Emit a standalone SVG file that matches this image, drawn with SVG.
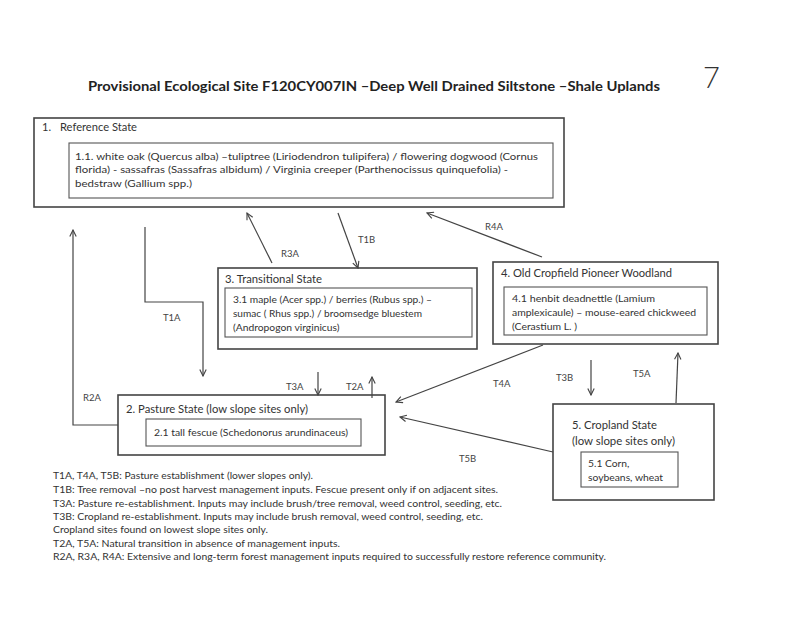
<svg xmlns="http://www.w3.org/2000/svg" width="800" height="617" viewBox="0 0 800 617">
<style>
text{font-family:Lato,"Open Sans","Liberation Sans",sans-serif;fill:#333}
.ob{fill:none;stroke:#444;stroke-width:1.6}
.ib{fill:none;stroke:#555;stroke-width:1.1}
.t{font-size:11px}
.s{font-size:10.3px}
.lab{font-size:9.5px;fill:#444}
.lg{font-size:9.6px}
.c{fill:none;stroke:#444;stroke-width:1.2}
</style>
<defs>
<marker id="ah" viewBox="0 0 10 10" refX="9" refY="5" markerWidth="8" markerHeight="8" markerUnits="userSpaceOnUse" orient="auto">
<path d="M1,1 L9,5 L1,9" fill="none" stroke="#444" stroke-width="1.4"/>
</marker>
</defs>
<rect width="800" height="617" fill="#fff"/>
<text x="88" y="91" font-size="13.5" font-weight="bold" textLength="572" lengthAdjust="spacingAndGlyphs" style="fill:#222">Provisional Ecological Site F120CY007IN –Deep Well Drained Siltstone –Shale Uplands</text>
<text x="703" y="88" font-size="29" font-weight="300" style="fill:#333">7</text>

<g id="node1">
<rect class="ob" x="34" y="118" width="530" height="89"/>
<text class="t" x="42" y="131">1.</text>
<text class="t" x="60" y="131" textLength="77" lengthAdjust="spacingAndGlyphs">Reference State</text>
<rect class="ib" x="69" y="143" width="484" height="55"/>
<text class="s" x="75" y="160" textLength="463" lengthAdjust="spacingAndGlyphs">1.1. white oak (Quercus alba) –tuliptree (Liriodendron tulipifera) / flowering dogwood (Cornus</text>
<text class="s" x="75" y="173" textLength="433" lengthAdjust="spacingAndGlyphs">florida) - sassafras (Sassafras albidum) / Virginia creeper (Parthenocissus quinquefolia) -</text>
<text class="s" x="75" y="187" textLength="117" lengthAdjust="spacingAndGlyphs">bedstraw (Gallium spp.)</text>
</g>

<g id="node3">
<rect class="ob" x="218" y="268" width="259" height="81"/>
<text class="t" x="225" y="283" textLength="97" lengthAdjust="spacingAndGlyphs">3. Transitional State</text>
<rect class="ib" x="225" y="288" width="247" height="49"/>
<text class="s" x="233" y="303" textLength="199" lengthAdjust="spacingAndGlyphs">3.1 maple (Acer spp.) / berries (Rubus spp.) –</text>
<text class="s" x="233" y="317" textLength="189" lengthAdjust="spacingAndGlyphs">sumac ( Rhus spp.)  /  broomsedge bluestem</text>
<text class="s" x="233" y="331">(Andropogon virginicus)</text>
</g>

<g id="node4">
<rect class="ob" x="493" y="262" width="225" height="82"/>
<text class="t" x="501" y="277" textLength="171" lengthAdjust="spacingAndGlyphs">4. Old Cropfield Pioneer Woodland</text>
<rect class="ib" x="504" y="287" width="203" height="48"/>
<text class="s" x="512" y="302" textLength="143" lengthAdjust="spacingAndGlyphs">4.1 henbit deadnettle (Lamium</text>
<text class="s" x="512" y="316" textLength="184" lengthAdjust="spacingAndGlyphs">amplexicaule) – mouse-eared chickweed</text>
<text class="s" x="512" y="330" textLength="65" lengthAdjust="spacingAndGlyphs">(Cerastium L. )</text>
</g>

<g id="node2">
<rect class="ob" x="118" y="395" width="267" height="60"/>
<text class="t" x="126" y="413" textLength="182" lengthAdjust="spacingAndGlyphs">2. Pasture State (low slope sites only)</text>
<rect class="ib" x="146" y="419" width="215" height="27"/>
<text class="s" x="154" y="436" textLength="194" lengthAdjust="spacingAndGlyphs">2.1 tall fescue (Schedonorus arundinaceus)</text>
</g>

<g id="node5">
<rect class="ob" x="553" y="404" width="161" height="96"/>
<text class="t" x="572" y="429" textLength="85" lengthAdjust="spacingAndGlyphs">5. Cropland State</text>
<text class="t" x="572" y="445" textLength="103" lengthAdjust="spacingAndGlyphs">(low slope sites only)</text>
<rect class="ib" x="581" y="452" width="97" height="35"/>
<text class="s" x="588" y="467">5.1 Corn,</text>
<text class="s" x="588" y="481" textLength="75" lengthAdjust="spacingAndGlyphs">soybeans, wheat</text>
</g>

<g id="connectors">
<line class="c" x1="272" y1="263" x2="247" y2="213" marker-end="url(#ah)"/>
<line class="c" x1="338" y1="213" x2="358" y2="268" marker-end="url(#ah)"/>
<line class="c" x1="542" y1="257" x2="427" y2="213" marker-end="url(#ah)"/>
<polyline class="c" points="145,227 145,302 203,302 203,376" marker-end="url(#ah)"/>
<polyline class="c" points="118,425 73,425 73,230" marker-end="url(#ah)"/>
<line class="c" x1="318" y1="372" x2="318" y2="395" marker-end="url(#ah)"/>
<line class="c" x1="372" y1="398" x2="372" y2="377" marker-end="url(#ah)"/>
<line class="c" x1="543" y1="345" x2="396" y2="402" marker-end="url(#ah)"/>
<line class="c" x1="553" y1="452" x2="400" y2="417" marker-end="url(#ah)"/>
<line class="c" x1="591" y1="360" x2="591" y2="395" marker-end="url(#ah)"/>
<line class="c" x1="676" y1="403" x2="678" y2="353" marker-end="url(#ah)"/>
<text class="lab" x="281" y="257">R3A</text>
<text class="lab" x="358" y="243">T1B</text>
<text class="lab" x="485" y="230">R4A</text>
<text class="lab" x="163" y="321">T1A</text>
<text class="lab" x="83" y="401">R2A</text>
<text class="lab" x="286" y="390">T3A</text>
<text class="lab" x="346" y="390">T2A</text>
<text class="lab" x="493" y="387">T4A</text>
<text class="lab" x="459" y="462">T5B</text>
<text class="lab" x="556" y="381">T3B</text>
<text class="lab" x="633" y="377">T5A</text>
</g>

<g id="legend">
<text class="lg" x="53" y="479" textLength="260" lengthAdjust="spacingAndGlyphs">T1A, T4A, T5B: Pasture establishment (lower slopes only).</text>
<text class="lg" x="53" y="493" textLength="445" lengthAdjust="spacingAndGlyphs">T1B: Tree removal –no post harvest management inputs. Fescue present only if on adjacent sites.</text>
<text class="lg" x="53" y="507" textLength="449" lengthAdjust="spacingAndGlyphs">T3A: Pasture re-establishment.  Inputs may include brush/tree removal, weed control, seeding, etc.</text>
<text class="lg" x="53" y="520" textLength="430" lengthAdjust="spacingAndGlyphs">T3B: Cropland re-establishment. Inputs may include brush removal, weed control, seeding, etc.</text>
<text class="lg" x="53" y="533" textLength="215" lengthAdjust="spacingAndGlyphs">Cropland sites found on lowest slope sites only.</text>
<text class="lg" x="53" y="547" textLength="287" lengthAdjust="spacingAndGlyphs">T2A, T5A: Natural transition in absence of management inputs.</text>
<text class="lg" x="53" y="560" textLength="553" lengthAdjust="spacingAndGlyphs">R2A, R3A, R4A: Extensive and long-term forest management inputs required to successfully restore reference community.</text>
</g>
</svg>
